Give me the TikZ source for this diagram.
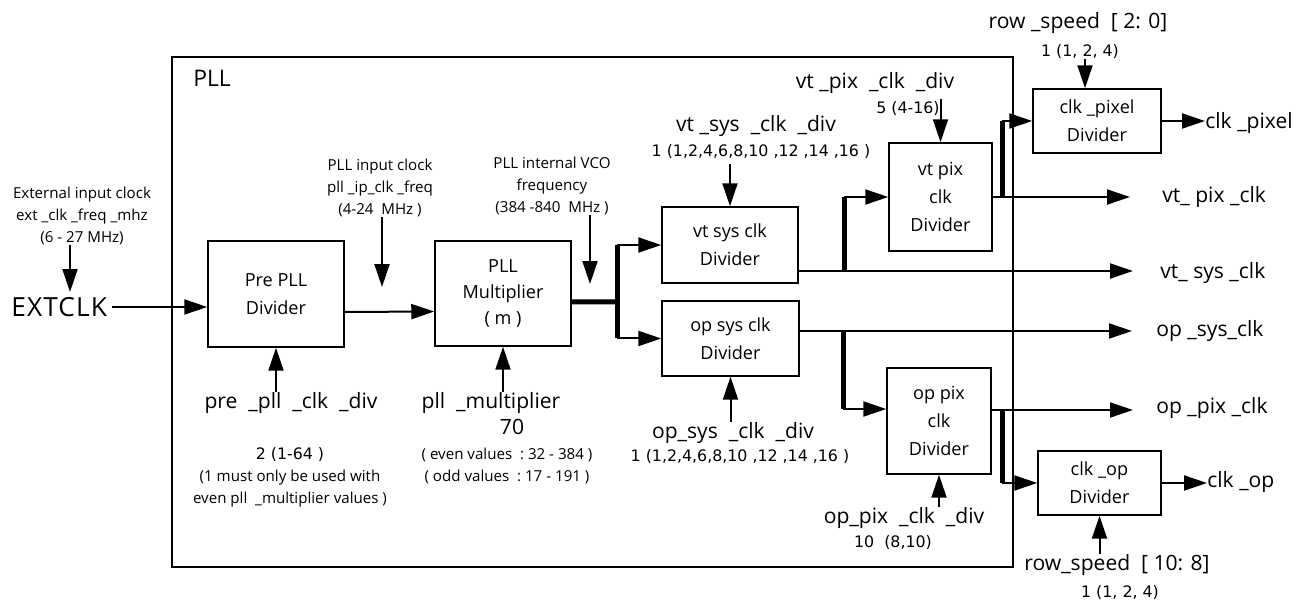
\documentclass[tikz,border=0pt]{standalone}
\usepackage{fontspec}
\setmainfont{Open Sans}
\newfontfamily\valfont{DejaVu Sans}
\usepackage{tikz}
\usetikzlibrary{arrows.meta, positioning, calc}
\tikzstyle{arrow} = [line width=0.4mm, -{Triangle[length=4.6mm,width=3mm]}]
\tikzstyle{bus} = [line width=1mm]
\tikzstyle{divbox} = [rectangle, draw=black, line width=0.3mm, align=center, inner sep=0pt, font=\fontsize{10.3}{16}\selectfont]
\tikzstyle{sig} = [inner sep=0pt, font=\fontsize{12}{14}\selectfont]
\tikzstyle{note} = [inner sep=0pt, align=center, font=\fontsize{8.6}{12.6}\selectfont]
\tikzstyle{val} = [inner sep=0pt, font=\valfont\fontsize{9}{11}\selectfont]

\begin{document}
\begin{tikzpicture}[x=0.02cm, y=-0.02cm]
\useasboundingbox (0,0) rectangle (1299,601);
%----------------------------------------------------------------------------
% Placement of divider blocks
\node (pllbox) [draw, line width=0.3mm, minimum width=168.2mm, minimum height=102mm] at (592.5,312) {};
\node (pll) [inner sep=0pt, font=\fontsize{13}{15}\selectfont] at (212,78) {PLL};

\node (prediv) [divbox, minimum width=27.2mm, minimum height=21.2mm] at (276,294) {Pre PLL\\Divider};
\node (mult) [divbox, minimum width=27.2mm, minimum height=21mm, font=\fontsize{10.3}{15}\selectfont] at (503,293.5) {PLL\\Multiplier\\( m )};
\node (vtsys) [divbox, minimum width=27.2mm, minimum height=15.2mm] at (730,245) {vt sys clk\\Divider};
\node (opsys) [divbox, minimum width=27.4mm, minimum height=15mm] at (730.5,338.5) {op sys clk\\Divider};
\node (vtpix) [divbox, minimum width=20.6mm, minimum height=21.6mm] at (940.5,197) {vt pix\\clk\\Divider};
\node (oppix) [divbox, minimum width=20.8mm, minimum height=21.2mm] at (939,421) {op pix\\clk\\Divider};
\node (clkpix) [divbox, minimum width=25.6mm, minimum height=12.8mm] at (1097,121) {clk \_pixel\\Divider};
\node (clkop) [divbox, minimum width=24.6mm, minimum height=12.8mm] at (1099.5,483) {clk \_op\\Divider};

%----------------------------------------------------------------------------
% Clock inputs and outputs
\node (extclk) [sig, anchor=west, font=\fontsize{15}{17}\selectfont\addfontfeature{LetterSpace=4}] at (11,307) {EXTCLK};
\node (vtpixout) [sig, anchor=west] at (1162,197) {vt\_ pix \_clk};
\node (vtsysout) [sig, anchor=west] at (1160,273) {vt\_ sys \_clk};
\node (opsysout) [sig, anchor=west] at (1156,331) {op \_sys\_clk};
\node (oppixout) [sig, anchor=west] at (1156,408) {op \_pix \_clk};
\node (clkpixout) [sig, anchor=west] at (1205,123) {clk \_pixel};
\node (clkopout) [sig, anchor=west] at (1207,482) {clk \_op};

%----------------------------------------------------------------------------
% Register names and values
\node (extin) [note] at (82,216) {External input clock\\ext \_clk \_freq \_mhz\\(6 - 27 MHz)};
\node (pllin) [note] at (380,188) {PLL input clock\\pll \_ip\_clk \_freq\\(4-24\ \ MHz )};
\node (vco) [note] at (552,186) {PLL internal VCO\\frequency\\(384 -840\ \ MHz )};

\node (prepllname) [sig] at (291,403) {pre\ \ \_pll\ \ \_clk\ \ \_div};
\node (preplnote) [note] at (290,477) {{\valfont\fontsize{9}{12.6}\selectfont 2 (1-64 )}\\(1 must only be used with\\even pll\ \ \_multiplier values )};
\node (pllmultname) [sig] at (491,403) {pll\ \ \_multiplier};
\node (pllmultval) [sig] at (512,427) {70};
\node (multnote) [note] at (507,466) {( even values\ \ :\ 32 - 384 )\\( odd values\ \ :\ 17 - 191 )};

\node (vtsysname) [sig] at (756,126) {vt \_sys\ \ \_clk\ \ \_div};
\node (vtsysval) [val] at (761,152) {1 (1,2,4,6,8,10 ,12 ,14 ,16 )};
\node (vtpixname) [sig] at (875,83) {vt \_pix\ \ \_clk\ \ \_div};
\node (vtpixval) [val] at (908,109) {5 (4-16)};
\node (rowname1) [sig] at (1078,23) {row \_speed\ \ [ 2: 0]};
\node (rowval1) [val] at (1080,52) {1 (1, 2, 4)};

\node (opsysname) [sig] at (733,433) {op\_sys\ \ \_clk\ \ \_div};
\node (opsysval) [val] at (740,457) {1 (1,2,4,6,8,10 ,12 ,14 ,16 )};
\node (oppixname) [sig] at (904,518) {op\_pix\ \ \_clk\ \ \_div};
\node (oppixval) [val] at (893,543) {10\ \ (8,10)};
\node (rowname2) [sig] at (1117,565) {row\_speed\ \ [ 10: 8]};
\node (rowval2) [val] at (1120,593) {1 (1, 2, 4)};

\coordinate (exttip) at (70,292);
\coordinate (iptip) at (382,287);
\coordinate (vcotip) at (590,284);
\coordinate (rowtip) at ([xshift=-2.4mm]clkpix.north);

%----------------------------------------------------------------------------
% Draw clock lines
\draw [arrow, shorten <=1mm] (extclk.east) -- (extclk.east -| prediv.west);
\draw [arrow] ([yshift=-3.6mm]prediv.east) -- ([yshift=-3.6mm]mult.west);

\coordinate (busA) at (617,302);
\draw [bus] ([yshift=-1.7mm]mult.east) -- (busA);
\draw [bus] (busA |- vtsys.west) -- (busA |- opsys.west);
\draw [arrow] (busA |- vtsys.west) -- (vtsys.west);
\draw [arrow] (busA |- opsys.west) -- (opsys.west);

\coordinate (busB) at (844,271);
\draw [arrow, shorten >=5.4mm] ([yshift=-5.2mm]vtsys.east) -- ([yshift=-5.2mm]vtsys.east -| vtsysout.west);
\draw [bus] (busB) -- (busB |- vtpix.west);
\draw [arrow] (busB |- vtpix.west) -- (vtpix.west);

\coordinate (busC) at (1002,197);
\draw [arrow, shorten >=6.4mm] (vtpix.east) -- (vtpix.east -| vtpixout.west);
\draw [bus] (busC) -- (busC |- clkpix.west);
\draw [arrow] (busC |- clkpix.west) -- (clkpix.west);
\draw [arrow] (clkpix.east) -- (clkpix.east -| clkpixout.west);

\coordinate (busD) at (843,331);
\draw [arrow, shorten >=4.8mm] ([yshift=1.5mm]opsys.east) -- ([yshift=1.5mm]opsys.east -| opsysout.west);
\draw [bus] (busD) -- ([yshift=2.4mm]oppix.west -| busD);
\draw [arrow] ([yshift=2.4mm]oppix.west -| busD) -- ([yshift=2.4mm]oppix.west);

\coordinate (busE) at (1002,410);
\draw [arrow, shorten >=4.6mm] ([yshift=2.2mm]oppix.east) -- ([yshift=2.2mm]oppix.east -| oppixout.west);
\draw [bus] (busE) -- (busE |- clkop.west);
\draw [arrow] (busE |- clkop.west) -- (clkop.west);
\draw [arrow] (clkop.east) -- (clkop.east -| clkopout.west);

%----------------------------------------------------------------------------
% Draw register arrows
\draw [arrow] (extin.south -| exttip) -- (exttip);
\draw [arrow] (pllin.south -| iptip) -- (iptip);
\draw [arrow] (vco.south -| vcotip) -- (vcotip);
\draw [arrow, shorten <=1mm] (vtsysval.south -| vtsys.north) -- (vtsys.north);
\draw [arrow, shorten <=1mm] (vtpixname.south -| vtpix.north) -- (vtpix.north);
\draw [arrow] (rowtip |- rowval1.south) -- (rowtip);

\draw [arrow] (prepllname.north -| prediv.south) -- (prediv.south);
\draw [arrow] (pllmultname.north -| mult.south) -- (mult.south);
\draw [arrow] (opsysname.north -| opsys.south) -- (opsys.south);
\draw [arrow] (oppixname.north -| oppix.south) -- (oppix.south);
\draw [arrow] (rowname2.north -| clkop.south) -- (clkop.south);

\end{tikzpicture}
\end{document}
